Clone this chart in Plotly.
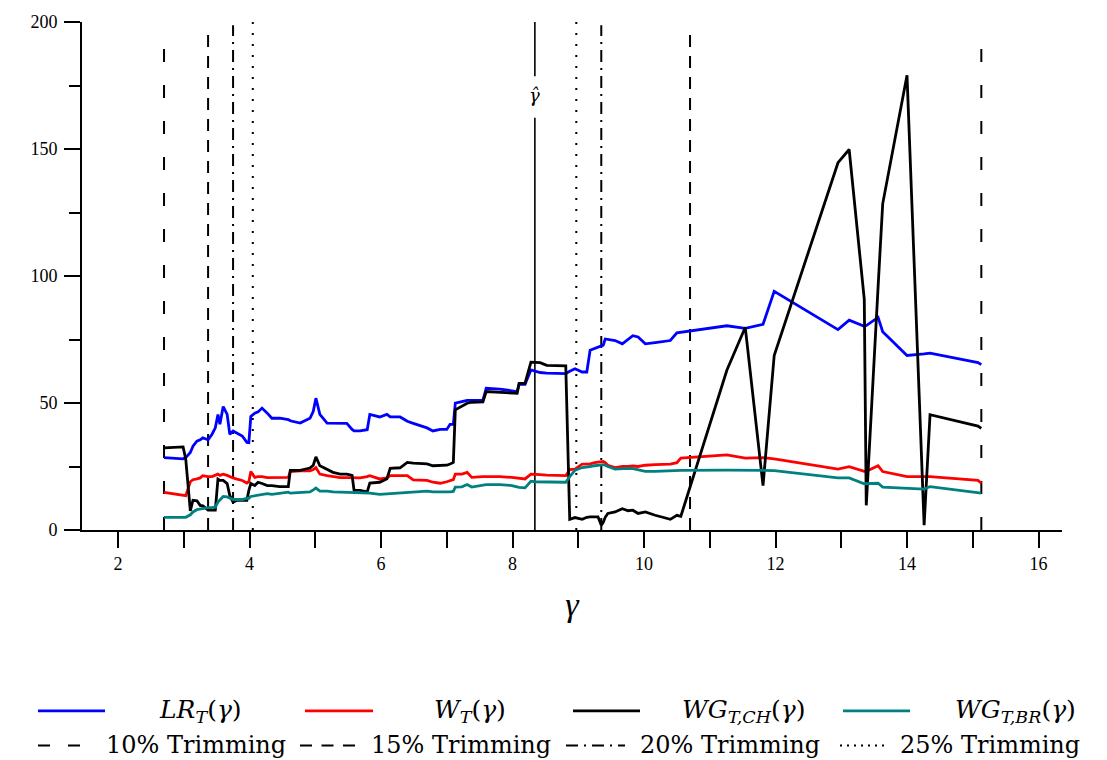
import plotly.graph_objects as go

# ---------------- data ----------------
gamma = [2.70, 2.99, 3.03, 3.10, 3.14, 3.20, 3.25, 3.29, 3.37, 3.43,
         3.48, 3.52, 3.55, 3.60, 3.66, 3.70, 3.75, 3.81, 3.89, 3.96,
         3.99, 4.02, 4.08, 4.13, 4.19, 4.27, 4.34, 4.46, 4.59, 4.62,
         4.77, 4.92, 4.97, 5.01, 5.07, 5.18, 5.27, 5.38, 5.48, 5.56,
         5.59, 5.68, 5.79, 5.83, 5.98, 6.09, 6.14, 6.29, 6.40, 6.49,
         6.70, 6.79, 6.90, 7.00, 7.05, 7.10, 7.13, 7.23, 7.31, 7.38,
         7.55, 7.60, 7.81, 7.99, 8.07, 8.10, 8.19, 8.28, 8.34, 8.42,
         8.52, 8.65, 8.81, 8.87, 8.95, 9.06, 9.13, 9.18, 9.25, 9.30,
         9.35, 9.38, 9.41, 9.45, 9.56, 9.67, 9.76, 9.83, 9.91, 10.02,
         10.17, 10.40, 10.50, 10.56, 11.26, 11.54, 11.81, 11.98, 12.95, 13.12,
         13.35, 13.38, 13.56, 13.63, 14.00, 14.26, 14.35, 15.08, 15.13]

lr_t = [28.5, 28.0, 28.5, 30.5, 33.0, 35.0, 35.5, 36.3, 35.5, 37.7,
        40.2, 45.5, 41.6, 48.6, 45.5, 37.7, 39.0, 38.0, 37.0, 34.5,
        34.4, 44.7, 46.0, 46.5, 48.0, 46.0, 44.0, 44.0, 43.5, 43.0,
        42.1, 44.0, 46.7, 51.9, 45.5, 42.1, 42.0, 42.0, 42.0, 39.6,
        39.0, 39.0, 39.5, 45.5, 44.5, 45.5, 44.5, 44.5, 42.8, 42.0,
        40.2, 39.0, 39.6, 39.6, 41.6, 41.6, 49.9, 50.5, 51.0, 51.0,
        51.0, 55.8, 55.5, 54.8, 54.5, 57.3, 57.3, 63.0, 62.5, 62.0,
        61.8, 61.6, 61.6, 62.5, 63.5, 62.2, 62.2, 70.8, 71.6, 72.0,
        72.6, 72.8, 75.2, 75.0, 74.6, 73.3, 75.0, 76.5, 76.0, 73.3,
        73.8, 74.6, 77.6, 77.8, 80.4, 79.4, 81.0, 94.0, 78.9, 82.6,
        80.2, 80.5, 83.7, 78.1, 68.7, 69.3, 69.6, 65.9, 65.1]

w_t = [14.8, 13.4, 13.5, 19.0, 19.8, 20.1, 20.5, 21.4, 21.0, 21.0,
       21.5, 22.0, 21.5, 22.0, 21.5, 21.0, 20.5, 20.0, 19.5, 18.5,
       19.0, 23.0, 20.7, 21.0, 21.0, 20.6, 20.6, 20.6, 20.7, 23.0,
       23.3, 23.3, 23.8, 24.6, 22.0, 21.4, 21.0, 20.6, 20.6, 20.6,
       20.4, 20.5, 21.0, 21.4, 20.1, 20.5, 21.4, 21.4, 21.4, 19.7,
       19.5, 18.8, 18.4, 19.0, 19.5, 19.8, 22.0, 22.0, 22.7, 20.7,
       21.0, 21.0, 21.0, 20.7, 20.5, 20.3, 20.1, 22.0, 21.8, 21.8,
       21.6, 21.4, 21.4, 23.8, 24.0, 25.9, 25.9, 26.0, 26.5, 26.8,
       27.0, 27.0, 26.5, 25.5, 24.6, 25.0, 25.0, 25.2, 25.0, 25.5,
       25.7, 25.9, 26.5, 28.3, 29.6, 28.3, 28.5, 28.0, 24.0, 24.9,
       23.1, 23.1, 25.3, 23.0, 21.0, 21.0, 21.0, 19.5, 18.4]

wg_ch = [32.3, 32.7, 28.0, 7.5, 11.7, 11.5, 9.7, 9.5, 7.8, 7.8,
         7.8, 20.0, 19.5, 19.5, 18.3, 13.6, 11.0, 11.7, 11.7, 11.7,
         15.6, 18.3, 17.5, 18.8, 18.3, 17.5, 17.5, 17.1, 17.1, 23.5,
         23.5, 24.4, 25.5, 28.8, 25.3, 24.0, 22.7, 22.0, 22.0, 21.5,
         15.6, 15.6, 15.0, 18.5, 18.8, 20.2, 24.3, 24.5, 26.6, 26.3,
         26.0, 25.3, 25.3, 25.5, 26.0, 26.6, 47.3, 48.6, 49.9, 50.3,
         50.4, 54.5, 54.2, 53.8, 53.8, 57.7, 57.7, 66.1, 66.0, 65.9,
         64.8, 64.7, 64.6, 4.2, 4.9, 4.2, 5.0, 5.2, 5.2, 5.2,
         1.9, 3.0, 5.0, 6.5, 7.1, 8.4, 7.6, 7.8, 6.5, 7.1,
         5.8, 4.2, 5.8, 5.4, 62.9, 79.8, 17.5, 68.7, 144.6, 149.8,
         90.8, 9.7, 95.7, 128.4, 179.0, 1.9, 45.4, 40.9, 40.0]

wg_br = [5.0, 5.0, 5.0, 6.0, 7.1, 8.0, 8.3, 8.5, 8.8, 8.8,
         9.0, 11.0, 11.7, 13.2, 13.0, 12.5, 12.0, 12.0, 12.0, 12.5,
         12.5, 13.2, 13.5, 13.8, 14.0, 14.3, 14.0, 14.3, 14.9, 14.5,
         14.8, 15.0, 15.8, 16.5, 15.3, 15.3, 15.0, 14.9, 14.9, 14.9,
         14.9, 14.8, 14.6, 14.5, 14.0, 14.2, 14.3, 14.5, 14.9, 15.0,
         15.3, 15.0, 14.9, 15.0, 15.0, 15.2, 16.9, 17.0, 17.9, 16.9,
         17.5, 17.9, 17.9, 17.5, 17.0, 16.8, 16.6, 19.2, 19.0, 19.0,
         18.8, 18.8, 18.8, 21.0, 23.5, 24.6, 25.0, 25.0, 25.3, 25.5,
         25.7, 25.7, 25.5, 25.0, 24.0, 24.3, 24.3, 24.2, 23.8, 23.1,
         23.1, 23.4, 23.4, 23.5, 23.6, 23.6, 23.6, 23.4, 20.5, 20.5,
         18.2, 18.2, 18.4, 16.9, 16.5, 16.1, 17.1, 14.8, 14.5]

series_labels = ["<i>LR</i><sub><i>T</i></sub>(<i>γ</i>)",
                 "<i>W</i><sub><i>T</i></sub>(<i>γ</i>)",
                 "<i>WG</i><sub><i>T,CH</i></sub>(<i>γ</i>)",
                 "<i>WG</i><sub><i>T,BR</i></sub>(<i>γ</i>)"]
series_colors = ["#0000ff", "#ff0000", "#000000", "#008080"]

trim_labels = ["10% Trimming", "15% Trimming", "20% Trimming", "25% Trimming"]
trim_lo = [2.70, 3.37, 3.75, 4.05]
trim_hi = [15.13, 10.70, 9.35, 8.97]
trim_top = [191.7, 196.3, 198.7, 200.0]
trim_dash = ["13px,23px", "12px,9px", "12px,6px,2px,6px", "2px,9px"]
legend_dash = ["12px,18px", "12px,9.5px", "12px,6px,2px,6px", "2px,5px"]

gamma_hat = 8.34
gamma_hat_gap = [162.3, 178.6]
gamma_hat_label = 171.0

x_range = [1.4525, 16.357]
y_range = [0, 200]

FONT = "Liberation Serif"
LEG_FONT = "DejaVu Serif"

# ---------------- figure ----------------
fig = go.Figure()

for lo, hi, top, dash in zip(trim_lo, trim_hi, trim_top, trim_dash):
    fig.add_trace(go.Scatter(x=[lo, lo, None, hi, hi], y=[0, top, None, 0, top],
                             mode="lines", line=dict(color="black", width=2, dash=dash),
                             showlegend=False, hoverinfo="skip"))

fig.add_trace(go.Scatter(x=[gamma_hat, gamma_hat, None, gamma_hat, gamma_hat],
                         y=[0, gamma_hat_gap[0], None, gamma_hat_gap[1], y_range[1]],
                         mode="lines", line=dict(color="black", width=1.6),
                         showlegend=False, hoverinfo="skip"))

for ys, col in zip([lr_t, w_t, wg_ch, wg_br], series_colors):
    fig.add_trace(go.Scatter(x=gamma, y=ys, mode="lines",
                             line=dict(color=col, width=2.8),
                             showlegend=False, hoverinfo="skip"))

# gamma-hat label (gamma with combining circumflex)
fig.add_annotation(x=gamma_hat, y=gamma_hat_label, xref="x", yref="y",
                   text="<i>\u03b3\u0302</i>", showarrow=False,
                   font=dict(family="DejaVu Serif", size=18, color="black"))

# ---------------- manual legend ----------------
L, R, T, B = 82, 45, 16, 230
W, H = 1107, 760
pw, ph = W - L - R, H - T - B


def fx(px):
    return (px - L) / pw


def fy(py):
    return (H - B - py) / ph


row1_y, row2_y = 713, 748
row1_samples = [(38, 105), (305, 373), (573, 640), (843, 910)]
row1_text_x = [200, 470, 743, 1015]
for (a, b), col, lab, tx in zip(row1_samples, series_colors, series_labels, row1_text_x):
    fig.add_shape(type="line", xref="paper", yref="paper", x0=fx(a), x1=fx(b),
                  y0=fy(row1_y), y1=fy(row1_y), line=dict(color=col, width=2.8))
    fig.add_annotation(x=fx(tx), y=fy(row1_y), xref="paper", yref="paper",
                       text=lab, showarrow=False, xanchor="center", yanchor="middle",
                       font=dict(family=LEG_FONT, size=25, color="black"))

row2_samples = [(38, 80), (300, 355), (566, 625), (840, 885)]
row2_text_x = [196, 461, 730, 990]
for (a, b), dash, lab, tx in zip(row2_samples, legend_dash, trim_labels, row2_text_x):
    fig.add_shape(type="line", xref="paper", yref="paper", x0=fx(a), x1=fx(b),
                  y0=fy(row2_y), y1=fy(row2_y), line=dict(color="black", width=2, dash=dash))
    fig.add_annotation(x=fx(tx), y=fy(row2_y), xref="paper", yref="paper",
                       text=lab, showarrow=False, xanchor="center", yanchor="middle",
                       font=dict(family=LEG_FONT, size=24, color="black"))

axis_common = dict(showline=True, linecolor="black", linewidth=2, ticks="outside",
                   tickwidth=2, tickcolor="black", showgrid=False, zeroline=False,
                   tickfont=dict(family=FONT, size=18, color="black"))

fig.update_layout(
    width=W, height=H,
    margin=dict(l=L, r=R, t=T, b=B),
    paper_bgcolor="white", plot_bgcolor="white",
    xaxis=dict(range=x_range, dtick=2, tick0=0, ticklen=16,
               minor=dict(ticks="outside", dtick=1, tick0=0, ticklen=16,
                          tickwidth=2, tickcolor="black", showgrid=False),
               title=dict(text="<i>γ</i>", font=dict(family=FONT, size=34, color="black"),
                          standoff=20),
               **axis_common),
    yaxis=dict(range=y_range, dtick=50, tick0=0, ticklen=16, ticklabelstandoff=3,
               minor=dict(ticks="outside", dtick=25, tick0=0, ticklen=11,
                          tickwidth=2, tickcolor="black", showgrid=False),
               **axis_common),
    showlegend=False,
)

fig.write_html("out.html", config={"displayModeBar": False},
               post_script="document.body.style.margin='0';document.body.style.overflow='hidden';")
